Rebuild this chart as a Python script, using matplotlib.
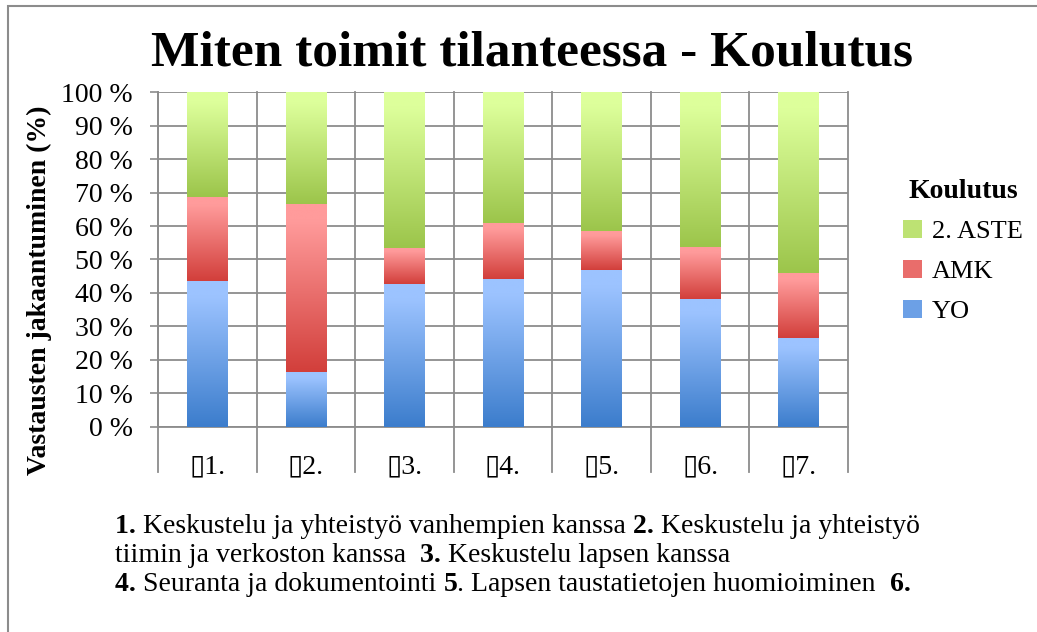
import matplotlib
matplotlib.use("Agg")
import matplotlib.pyplot as plt
import numpy as np
from matplotlib.colors import to_rgb
from matplotlib.patches import Patch, Rectangle

plt.rcParams["font.family"] = ["Liberation Serif", "DejaVu Sans"]

# data (percent of answers)
categories = ["\u25af1.", "\u25af2.", "\u25af3.", "\u25af4.", "\u25af5.", "\u25af6.", "\u25af7."]
yo = [43.5, 16.3, 42.6, 44.1, 46.8, 38.1, 26.5]
amk = [25.1, 50.2, 10.8, 16.7, 11.6, 15.5, 19.4]
aste2 = [100 - a - b for a, b in zip(yo, amk)]

series = [
    ("YO", yo, "#9cc3ff", "#3c7dcc"),
    ("AMK", amk, "#ff9b9b", "#d23f3b"),
    ("2. ASTE", aste2, "#ddff9b", "#9cc54b"),
]

# footnote lines: (text, bold) pieces
notes = [
    [("1. ", True), ("Keskustelu ja yhteistyö vanhempien kanssa ", False),
     ("2. ", True), ("Keskustelu ja yhteistyö", False)],
    [("tiimin ja verkoston kanssa  ", False), ("3. ", True), ("Keskustelu lapsen kanssa", False)],
    [("4. ", True), ("Seuranta ja dokumentointi ", False), ("5", True),
     (". Lapsen taustatietojen huomioiminen  ", False), ("6.", True)],
]

fig = plt.figure(figsize=(10.37, 6.32), dpi=100)
ax = fig.add_axes([0.1524, 0.3244, 0.6653, 0.5300])

x = np.arange(len(categories))
bottom = np.zeros(len(categories))
handles = []
for name, vals, top_c, bot_c in series:
    bars = ax.bar(x, vals, width=0.41, bottom=bottom, color=bot_c, zorder=3, linewidth=0)
    t = np.array(to_rgb(top_c))
    b = np.array(to_rgb(bot_c))
    for p in bars.patches:
        x0, y0 = p.get_x(), p.get_y()
        w, h = p.get_width(), p.get_height()
        f = np.clip(np.linspace(0, 1, 100) / 0.9, 0, 1)[:, None]
        grad = (b + (t - b) * f)[:, None, :]
        im = ax.imshow(grad, extent=(x0, x0 + w, y0, y0 + h), origin="lower",
                       aspect="auto", zorder=4, interpolation="bilinear")
        im.set_clip_path(p)
    bottom += np.array(vals)
    handles.append(Patch(facecolor=(t + b) / 2, edgecolor="none", label=name))

ax.set_xlim(-0.5, len(categories) - 0.5)
ax.set_ylim(0, 100)
ax.set_yticks(range(0, 101, 10))
ax.set_yticklabels([f"{v} %" for v in range(0, 101, 10)], fontsize=20)
ax.set_xticks(x)
ax.set_xticklabels(categories, fontsize=20)
ax.tick_params(axis="x", length=0, pad=20)
ax.tick_params(axis="y", length=6, width=1.2, color="#8c8c8c", pad=12)
ax.yaxis.grid(True, color="#8c8c8c", linewidth=1.3, zorder=1)
ax.set_axisbelow(True)
for s in ["top", "right"]:
    ax.spines[s].set_visible(False)
for s in ["left", "bottom"]:
    ax.spines[s].set_color("#8c8c8c")
    ax.spines[s].set_linewidth(1.3)
for i in range(len(categories) + 1):
    ax.axvline(i - 0.5, ymin=-45 / 335, ymax=1, color="#8c8c8c", linewidth=1.3,
               clip_on=False, zorder=1)

fig.text(0.513, 0.915, "Miten toimit tilanteessa - Koulutus", ha="center", va="center",
         fontsize=37, fontweight="bold")
fig.text(0.038, 0.541, "Vastausten jakaantuminen (%)", rotation=90, ha="center", va="center",
         fontsize=20, fontweight="bold")

leg = fig.legend(handles=handles[::-1], title="Koulutus", loc="upper left",
                 bbox_to_anchor=(0.848, 0.755), frameon=False, fontsize=19,
                 title_fontproperties={"weight": "bold", "size": 20},
                 handlelength=0.7, handleheight=0.7, handletextpad=0.4, labelspacing=0.62)

# footnote, bold numbers chained after regular text
ov = fig.add_axes([0, 0, 1, 1], facecolor="none")
ov.set_axis_off()
for i, line in enumerate(notes):
    y = 1 - (533 + i * 29) / 632
    prev = None
    for txt, bold in line:
        w = "bold" if bold else "normal"
        if prev is None:
            prev = ov.text(0.111, y, txt, transform=fig.transFigure, ha="left",
                           va="baseline", fontsize=20, fontweight=w)
        else:
            prev = ov.annotate(txt, xy=(1, y), xycoords=(prev, "figure fraction"),
                               ha="left", va="baseline", fontsize=20, fontweight=w,
                               annotation_clip=False)

fig.add_artist(Rectangle((8 / 1037, -0.1), 1.2, 1.1 - 6 / 632, transform=fig.transFigure,
                         fill=False, edgecolor="#8c8c8c", linewidth=1.5))

fig.savefig("out.png", dpi=100)
